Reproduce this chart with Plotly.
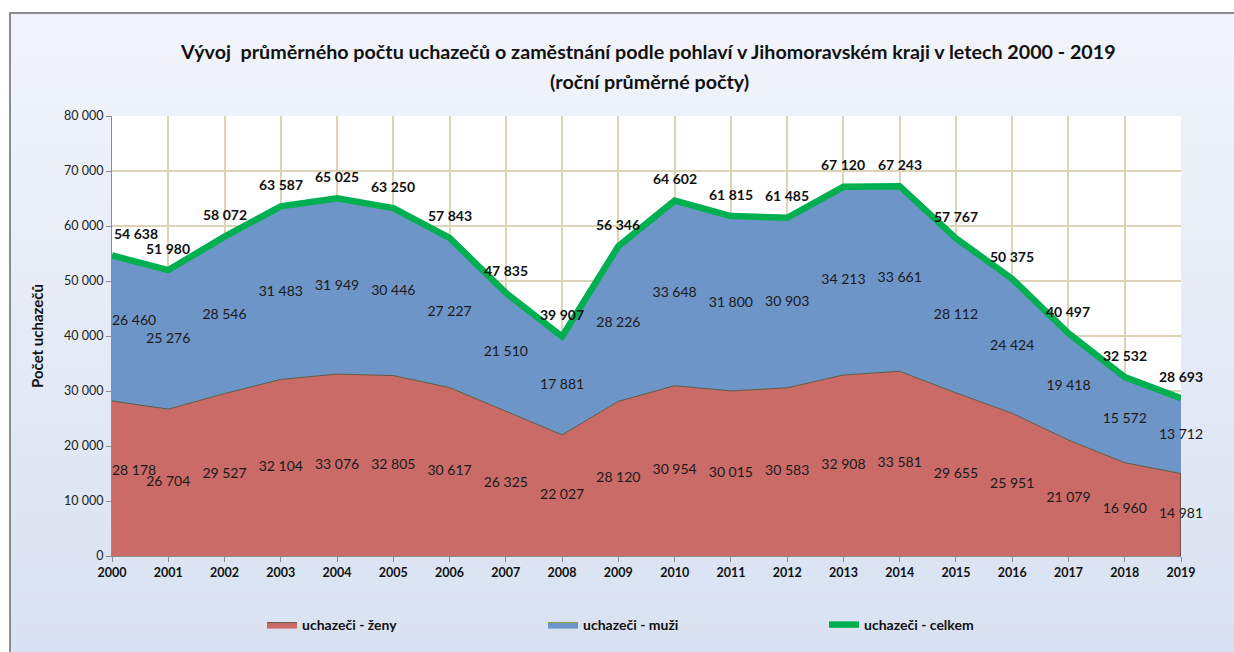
import plotly.graph_objects as go

years = list(range(2000, 2020))
zeny = [28178, 26704, 29527, 32104, 33076, 32805, 30617, 26325, 22027, 28120,
        30954, 30015, 30583, 32908, 33581, 29655, 25951, 21079, 16960, 14981]
muzi = [26460, 25276, 28546, 31483, 31949, 30446, 27227, 21510, 17881, 28226,
        33648, 31800, 30903, 34213, 33661, 28112, 24424, 19418, 15572, 13712]
celkem = [54638, 51980, 58072, 63587, 65025, 63250, 57843, 47835, 39907, 56346,
          64602, 61815, 61485, 67120, 67243, 57767, 50375, 40497, 32532, 28693]
ytick_vals = [0, 10000, 20000, 30000, 40000, 50000, 60000, 70000, 80000]

title1 = "Vývoj  průměrného počtu uchazečů o zaměstnání podle pohlaví v Jihomoravském kraji v letech 2000 - 2019"
title2 = "(roční průměrné počty)"
ytitle = "Počet uchazečů"
names = ["uchazeči - ženy", "uchazeči - muži", "uchazeči - celkem"]

FONT = "Lato, Carlito, Calibri, sans-serif"


def fmt(v):
    return f"{v:,}".replace(",", " ")


W, H = 1234, 652
L, R, T, B = 112, 1181, 116, 556


def px_x(p):
    return (p - L) / (R - L)


def px_y(p):
    return (B - p) / (B - T)


# first label sits inside the plot (to the right of the axis, slightly raised)
label_pos = ["top right"] + ["middle center"] * (len(years) - 1)

fig = go.Figure()

# stacked areas
fig.add_trace(go.Scatter(
    x=years, y=zeny, name=names[0], mode="lines", stackgroup="one",
    fillcolor="#cb6b68", line=dict(color="#5e5a3c", width=1),
    hoverinfo="skip"))
fig.add_trace(go.Scatter(
    x=years, y=muzi, name=names[1], mode="lines", stackgroup="one",
    fillcolor="#6e95c8", line=dict(color="#8da04e", width=1.2),
    hoverinfo="skip"))
fig.add_trace(go.Scatter(
    x=years, y=celkem, name=names[2], mode="lines",
    line=dict(color="#00b050", width=6.5), hoverinfo="skip"))

# data labels
lab_font = dict(family=FONT, size=14, color="#1a1a1a")
fig.add_trace(go.Scatter(
    x=years, y=[z / 2 for z in zeny], mode="text",
    text=[fmt(z) for z in zeny], textposition=label_pos,
    textfont=lab_font, showlegend=False, hoverinfo="skip", cliponaxis=False))
fig.add_trace(go.Scatter(
    x=years, y=[z + m / 2 for z, m in zip(zeny, muzi)], mode="text",
    text=[fmt(m) for m in muzi], textposition=label_pos,
    textfont=lab_font, showlegend=False, hoverinfo="skip", cliponaxis=False))

annotations = []
for i, (yr, c) in enumerate(zip(years, celkem)):
    annotations.append(dict(
        x=yr, y=c, xref="x", yref="y", text=f"<b>{fmt(c)}</b>",
        xanchor="left" if i == 0 else "center",
        showarrow=False, yshift=22, font=dict(family=FONT, size=14, color="#111111")))

annotations.append(dict(
    x=px_x(648), y=px_y(52), xref="paper", yref="paper", text=f"<b>{title1}</b>",
    showarrow=False, xanchor="center", yanchor="middle",
    font=dict(family=FONT, size=19.7, color="#111111")))
annotations.append(dict(
    x=px_x(649), y=px_y(82), xref="paper", yref="paper", text=f"<b>{title2}</b>",
    showarrow=False, xanchor="center", yanchor="middle",
    font=dict(family=FONT, size=19.7, color="#111111")))

# background gradient + border
shapes = []
n = 40
top_c = (0xF1, 0xF4, 0xFA)
bot_c = (0xD9, 0xE2, 0xF2)
y_top, y_bot = 12, 652
for i in range(n):
    t = i / (n - 1)
    c = tuple(round(a + (b - a) * t) for a, b in zip(top_c, bot_c))
    p0 = y_top + (y_bot - y_top) * i / n
    p1 = y_top + (y_bot - y_top) * (i + 1) / n + 1
    shapes.append(dict(
        type="rect", xref="paper", yref="paper", layer="below",
        x0=px_x(9), x1=px_x(W + 5), y0=px_y(p1), y1=px_y(p0),
        fillcolor="rgb(%d,%d,%d)" % c, line=dict(width=0)))
shapes.append(dict(
    type="rect", xref="paper", yref="paper", layer="below",
    x0=px_x(10), x1=px_x(W + 10), y0=px_y(H + 10), y1=px_y(13),
    fillcolor="rgba(0,0,0,0)", line=dict(color="#8c8c8c", width=2)))
shapes.append(dict(
    type="rect", xref="paper", yref="paper", layer="below",
    x0=0, x1=1, y0=0, y1=1, fillcolor="white", line=dict(width=0)))
# dark right edge of the women area at the last year
shapes.append(dict(
    type="line", xref="x", yref="y", layer="above",
    x0=years[-1], x1=years[-1], y0=0, y1=zeny[-1],
    line=dict(color="#3a3a3a", width=1.2)))

fig.update_layout(
    width=W, height=H,
    margin=dict(l=L, r=W - R, t=T, b=H - B, autoexpand=False),
    paper_bgcolor="white", plot_bgcolor="rgba(0,0,0,0)",
    separators=", ",
    font=dict(family=FONT, color="#222222"),
    showlegend=True,
    legend=dict(
        orientation="h", x=px_x(262), xanchor="left", xref="paper",
        y=px_y(625), yanchor="middle", entrywidth=236,
        font=dict(family=FONT, size=14, color="#111111", weight="bold"),
        traceorder="normal", bgcolor="rgba(0,0,0,0)"),
    annotations=annotations,
    shapes=shapes,
    hovermode=False,
)

fig.update_xaxes(
    range=[2000, 2019], tickmode="array", tickvals=years,
    ticktext=[f"<b>{y}</b>" for y in years],
    tickfont=dict(family=FONT, size=12.5, color="#111111"),
    showgrid=True, gridcolor="#ddd4b8", gridwidth=1.5,
    showline=True, linecolor="#8c8c8c", linewidth=1,
    ticks="outside", ticklen=5, tickcolor="#8c8c8c", zeroline=False,
    layer="below traces")
fig.update_yaxes(
    range=[0, 80000], tickmode="array", tickvals=ytick_vals,
    tickformat=",d",
    tickfont=dict(family=FONT, size=12.5, color="#222222"),
    showgrid=True, gridcolor="#ddd4b8", gridwidth=1.5,
    showline=True, linecolor="#8c8c8c", linewidth=1,
    ticks="outside", ticklen=5, tickcolor="#8c8c8c", zeroline=False,
    title=dict(text=f"<b>{ytitle}</b>", font=dict(family=FONT, size=15, color="#111111"),
               standoff=16),
    layer="below traces")

fig.write_html("out.html", config={"displayModeBar": False},
               post_script="document.body.style.margin='0';")
